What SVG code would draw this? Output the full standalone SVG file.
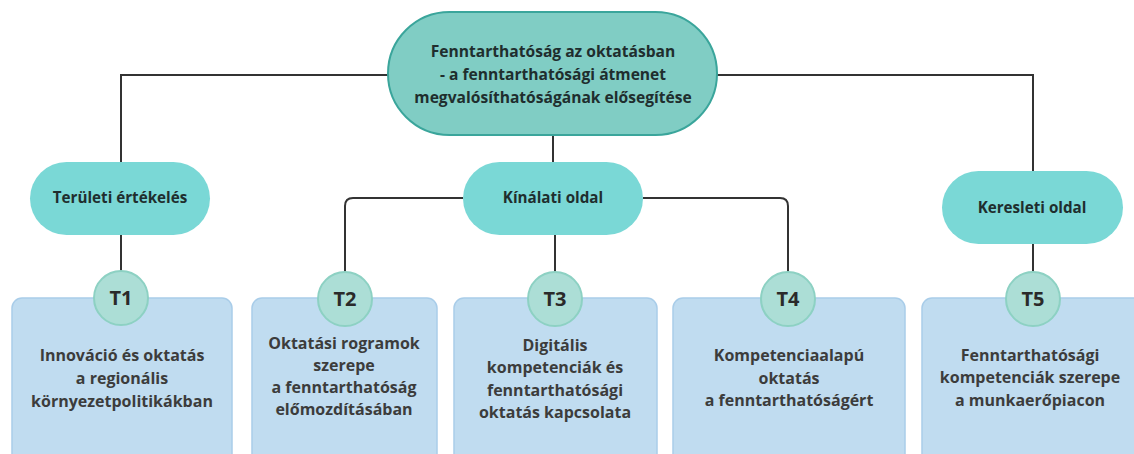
<svg xmlns="http://www.w3.org/2000/svg" width="1134" height="454" viewBox="0 0 1134 454">
<style>
.conn{fill:none;stroke:#333;stroke-width:2}
.top{fill:#80cdc4;stroke:#3aa59b;stroke-width:2}
.pill{fill:#7ad8d6}
.box{fill:#c0dcf0;stroke:#a9cde9;stroke-width:1.5}
.circ{fill:#acded6;stroke:#8dd1c3;stroke-width:2}
text{font-family:"Open Sans","Noto Sans","Liberation Sans",sans-serif;font-weight:bold;text-anchor:middle}
.tt{font-size:15.6px;fill:#1f2e2e}
.pt{font-size:15.2px;fill:#1f2e2e}
.bt{font-size:16px;fill:#3c3c3c}
.ct{font-size:20px;fill:#2a2a2a}
</style>
<rect x="0" y="0" width="1134" height="454" fill="#ffffff"/>
<g id="connectors">
<path class="conn" d="M388 75 H121 V165"/>
<path class="conn" d="M717 75 H1033 V172"/>
<path class="conn" d="M553 135 V162"/>
<path class="conn" d="M121 235 V271"/>
<path class="conn" d="M463 198 H353 Q345 198 345 206 V272"/>
<path class="conn" d="M643 198 H780 Q788 198 788 206 V272"/>
<path class="conn" d="M555 235 V272"/>
<path class="conn" d="M1033 244 V272"/>
</g>
<g id="box1"><rect class="box" x="12" y="298" width="220" height="170" rx="10"/><text class="bt" x="122" y="361">Innováció és oktatás</text><text class="bt" x="122" y="384">a regionális</text><text class="bt" x="122" y="407">környezetpolitikákban</text></g>
<g id="box2"><rect class="box" x="252" y="298" width="185" height="170" rx="10"/><text class="bt" x="344" y="349">Oktatási rogramok</text><text class="bt" x="344" y="371">szerepe</text><text class="bt" x="344" y="393">a fenntarthatóság</text><text class="bt" x="344" y="415">előmozdításában</text></g>
<g id="box3"><rect class="box" x="454" y="298" width="203" height="170" rx="10"/><text class="bt" x="555" y="351">Digitális</text><text class="bt" x="555" y="373">kompetenciák és</text><text class="bt" x="555" y="396">fenntarthatósági</text><text class="bt" x="555" y="418">oktatás kapcsolata</text></g>
<g id="box4"><rect class="box" x="673" y="298" width="232" height="170" rx="10"/><text class="bt" x="789" y="361">Kompetenciaalapú</text><text class="bt" x="789" y="384">oktatás</text><text class="bt" x="789" y="406">a fenntarthatóságért</text></g>
<g id="box5"><rect class="box" x="922" y="298" width="230" height="170" rx="10"/><text class="bt" x="1030" y="361">Fenntarthatósági</text><text class="bt" x="1030" y="383">kompetenciák szerepe</text><text class="bt" x="1030" y="406">a munkaerőpiacon</text></g>
<g id="t1"><circle class="circ" cx="121" cy="298" r="27"/><text class="ct" x="121" y="305">T1</text></g>
<g id="t2"><circle class="circ" cx="345" cy="299" r="27"/><text class="ct" x="345" y="306">T2</text></g>
<g id="t3"><circle class="circ" cx="555" cy="299" r="27"/><text class="ct" x="555" y="306">T3</text></g>
<g id="t4"><circle class="circ" cx="788" cy="299" r="27"/><text class="ct" x="788" y="306">T4</text></g>
<g id="t5"><circle class="circ" cx="1033" cy="299" r="27"/><text class="ct" x="1033" y="306">T5</text></g>
<g id="root"><rect class="top" x="388" y="12" width="329" height="123" rx="61.5"/><text class="tt" x="553" y="57">Fenntarthatóság az oktatásban</text><text class="tt" x="553" y="80">- a fenntarthatósági átmenet</text><text class="tt" x="553" y="103">megvalósíthatóságának elősegítése</text></g>
<g id="teruleti"><rect class="pill" x="30" y="162" width="180" height="73" rx="36.5"/><text class="pt" x="120" y="203">Területi értékelés</text></g>
<g id="kinalati"><rect class="pill" x="463" y="162" width="180" height="73" rx="36.5"/><text class="pt" x="553" y="203">Kínálati oldal</text></g>
<g id="keresleti"><rect class="pill" x="942" y="171" width="181" height="73" rx="36.5"/><text class="pt" x="1032" y="213">Keresleti oldal</text></g>
</svg>
